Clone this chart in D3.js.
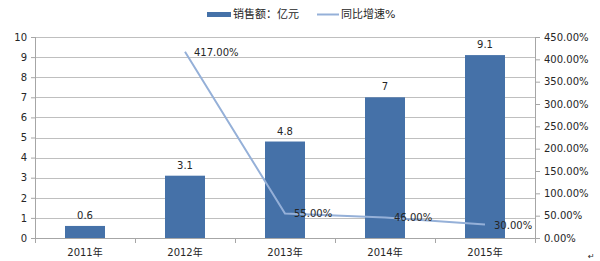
<!DOCTYPE html>
<html>
<head>
<meta charset="utf-8">
<script src="https://cdn.jsdelivr.net/npm/d3@7"></script>
<style>
  body { margin: 0; background: #fff; }
  text { font-family: "DejaVu Sans", "Noto Sans CJK SC", sans-serif; font-size: 10px; fill: #262626; }
</style>
</head>
<body>
<div id="chart"></div>
<script>
const years = ["2011年", "2012年", "2013年", "2014年", "2015年"];
const sales = [0.6, 3.1, 4.8, 7, 9.1];
const growth = [null, 417, 55, 46, 30];
const salesName = "销售额：亿元";
const growthName = "同比增速%";
const leftTicks = [0, 1, 2, 3, 4, 5, 6, 7, 8, 9, 10];
const rightTicks = [0, 50, 100, 150, 200, 250, 300, 350, 400, 450];

const width = 600, height = 261;
const margin = {top: 37, right: 65, bottom: 23, left: 35};
const w = width - margin.left - margin.right;
const h = height - margin.top - margin.bottom;

const barColor = "#4571A8";
const lineColor = "#95B0D8";

const svg = d3.select("#chart").append("svg")
    .attr("width", width)
    .attr("height", height);

const g = svg.append("g")
    .attr("transform", "translate(" + margin.left + "," + margin.top + ")");

const x = d3.scaleBand().domain(years).range([0, w]);
const yL = d3.scaleLinear().domain([0, 10]).range([h, 0]);
const yR = d3.scaleLinear().domain([0, 450]).range([h, 0]);

// gridlines
g.selectAll(".grid")
    .data(leftTicks)
    .join("line")
    .attr("x1", 0).attr("x2", w)
    .attr("y1", d => Math.round(yL(d)) + 0.5)
    .attr("y2", d => Math.round(yL(d)) + 0.5)
    .attr("stroke", "#BFBFBF");

// left axis
const leftAxis = g.append("g")
    .call(d3.axisLeft(yL).tickValues(leftTicks).tickSize(4).tickPadding(4).tickFormat(d3.format("d")));
leftAxis.selectAll("line").attr("stroke", "#A6A6A6");
leftAxis.select(".domain").attr("stroke", "#A6A6A6").attr("d", "M0.5,0V" + h);
leftAxis.selectAll("text").style("font-size", "10px").style("font-family", "DejaVu Sans").attr("fill", "#262626");

// right axis
const rightAxis = g.append("g")
    .attr("transform", "translate(" + w + ",0)")
    .call(d3.axisRight(yR).tickValues(rightTicks).tickSize(5).tickPadding(4).tickFormat(d => d3.format(".2f")(d) + "%"));
rightAxis.selectAll("line").attr("stroke", "#A6A6A6");
rightAxis.select(".domain").attr("stroke", "#A6A6A6").attr("d", "M0.5,0V" + h);
rightAxis.selectAll("text").style("font-size", "10px").style("font-family", "DejaVu Sans").attr("fill", "#262626");

// bottom axis
const bottom = g.append("g")
    .attr("transform", "translate(0," + h + ")");
bottom.append("line")
    .attr("x1", 0).attr("x2", w)
    .attr("y1", 0.5).attr("y2", 0.5)
    .attr("stroke", "#A6A6A6");
bottom.selectAll(".xtick")
    .data(d3.range(years.length + 1))
    .join("line")
    .attr("x1", i => Math.round(i * x.step()) + 0.5)
    .attr("x2", i => Math.round(i * x.step()) + 0.5)
    .attr("y1", 0).attr("y2", 5)
    .attr("stroke", "#A6A6A6");
bottom.selectAll(".xlabel")
    .data(years)
    .join("text")
    .attr("x", d => x(d) + x.bandwidth() / 2)
    .attr("y", 18)
    .attr("text-anchor", "middle")
    .text(d => d);

// bars
const barW = 40;
g.selectAll(".bar")
    .data(sales)
    .join("rect")
    .attr("x", (d, i) => x(years[i]) + x.bandwidth() / 2 - barW / 2)
    .attr("y", d => yL(d))
    .attr("width", barW)
    .attr("height", d => h - yL(d))
    .attr("fill", barColor);

g.selectAll(".barLabel")
    .data(sales)
    .join("text")
    .attr("x", (d, i) => x(years[i]) + x.bandwidth() / 2)
    .attr("y", d => yL(d) - 7)
    .attr("text-anchor", "middle")
    .text(d => d);

// growth line
const pts = growth.map((v, i) => ({v: v, yr: years[i]})).filter(d => d.v !== null);
const line = d3.line()
    .x(d => x(d.yr) + x.bandwidth() / 2)
    .y(d => yR(d.v));
g.append("path")
    .datum(pts)
    .attr("d", line)
    .attr("fill", "none")
    .attr("stroke", lineColor)
    .attr("stroke-width", 2);

g.selectAll(".lineLabel")
    .data(pts)
    .join("text")
    .attr("x", d => x(d.yr) + x.bandwidth() / 2 + 9)
    .attr("y", d => yR(d.v) + 4)
    .text(d => d3.format(".2f")(d.v) + "%");

// legend
const legend = svg.append("g");
legend.append("rect")
    .attr("x", 207).attr("y", 12)
    .attr("width", 24).attr("height", 5)
    .attr("fill", barColor);
legend.append("text")
    .attr("x", 233).attr("y", 18)
    .style("font-size", "11px")
    .text(salesName);
legend.append("line")
    .attr("x1", 317).attr("x2", 339)
    .attr("y1", 14.5).attr("y2", 14.5)
    .attr("stroke", lineColor)
    .attr("stroke-width", 2);
legend.append("text")
    .attr("x", 341).attr("y", 18)
    .style("font-size", "11px")
    .text(growthName);

// paragraph mark
svg.append("text")
    .attr("x", 588).attr("y", 259)
    .style("font-size", "8px")
    .attr("fill", "#888")
    .text("↵");
</script>
</body>
</html>
